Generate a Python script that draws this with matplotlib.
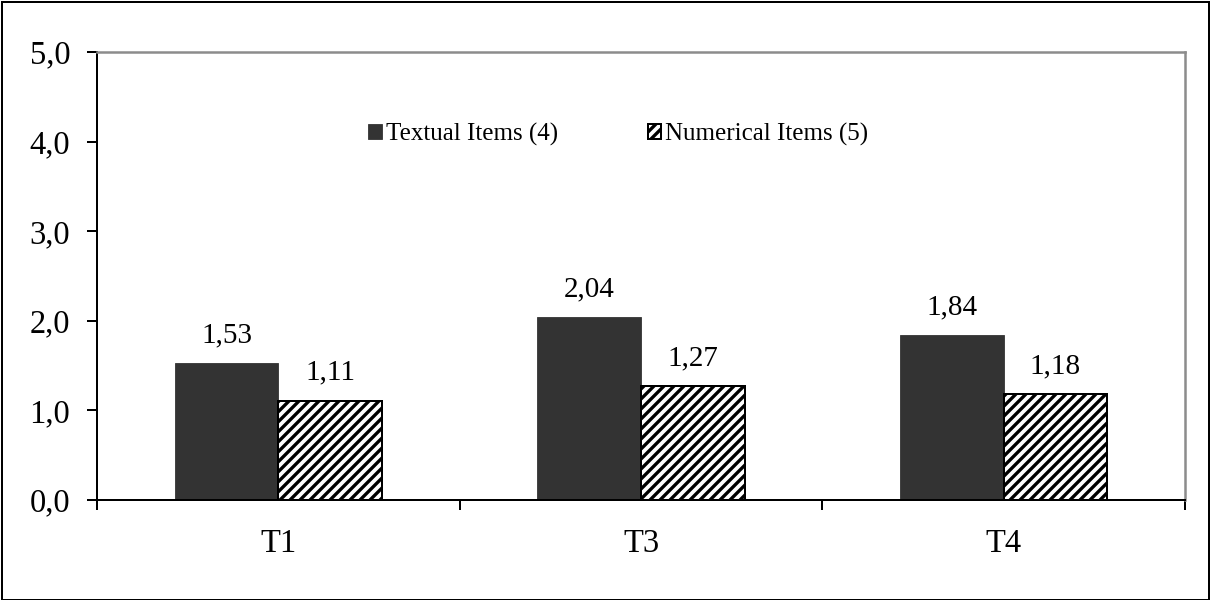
import numpy as np
import matplotlib.pyplot as plt
from matplotlib.patches import Rectangle
from matplotlib.ticker import FixedLocator, FuncFormatter

categories = ["T1", "T3", "T4"]
textual = [1.53, 2.04, 1.84]
numerical = [1.11, 1.27, 1.18]
series_names = ["Textual Items (4)", "Numerical Items (5)"]

plt.rcParams['font.family'] = ['Liberation Serif', 'DejaVu Serif']
plt.rcParams['hatch.linewidth'] = 2.0

fig = plt.figure(figsize=(10.1, 5.0), dpi=120)
ax = fig.add_axes([97 / 1212, 100 / 600, (1185 - 97) / 1212, (500 - 52) / 600])

# outer frame of the chart
fig.patches.append(Rectangle((2 / 1212, 0.0), 1207 / 1212, 598 / 600,
                             transform=fig.transFigure, fill=False,
                             edgecolor='black', linewidth=1.2))

x = np.arange(len(categories))
w = 1 / 3.5

b1 = ax.bar(x - w / 2, textual, w, color='#333333', edgecolor='#333333',
            linewidth=0.5, label=series_names[0])
b2 = ax.bar(x + w / 2, numerical, w, color='white', edgecolor='black',
            hatch='////', linewidth=1.2, label=series_names[1])

fmt = lambda v: f"{v:.2f}".replace('.', ',')
ax.bar_label(b1, labels=[fmt(v) for v in textual], padding=9, fontsize=17.5)
ax.bar_label(b2, labels=[fmt(v) for v in numerical], padding=9, fontsize=17.5)

ax.set_xlim(-0.5, len(categories) - 0.5)
ax.set_ylim(0, 5)
ax.set_yticks(np.arange(0, 5.01, 1.0))
ax.yaxis.set_major_formatter(FuncFormatter(lambda v, p: f"{v:.1f}".replace('.', ',')))
ax.set_xticks(x)
ax.set_xticklabels(categories)
ax.xaxis.set_minor_locator(FixedLocator(np.arange(-0.5, len(categories), 1.0)))
ax.tick_params(axis='x', which='major', length=0, pad=17, labelsize=19.5)
ax.tick_params(axis='x', which='minor', length=6, width=1.2, direction='out')
ax.tick_params(axis='y', length=6, width=1.2, direction='out', pad=10, labelsize=19.5)

for s in ['top', 'right']:
    ax.spines[s].set_color('#8c8c8c')
    ax.spines[s].set_linewidth(1.5)
for s in ['left', 'bottom']:
    ax.spines[s].set_color('black')
    ax.spines[s].set_linewidth(1.2)

ax.legend(loc='center left', bbox_to_anchor=(271 / 1088, (500 - 134) / 448), ncol=2,
          frameon=False, fontsize=15, handlelength=0.55, handleheight=0.55,
          handletextpad=0.15, columnspacing=3.6, borderaxespad=0, borderpad=0)

fig.savefig('out.png', dpi=120)
